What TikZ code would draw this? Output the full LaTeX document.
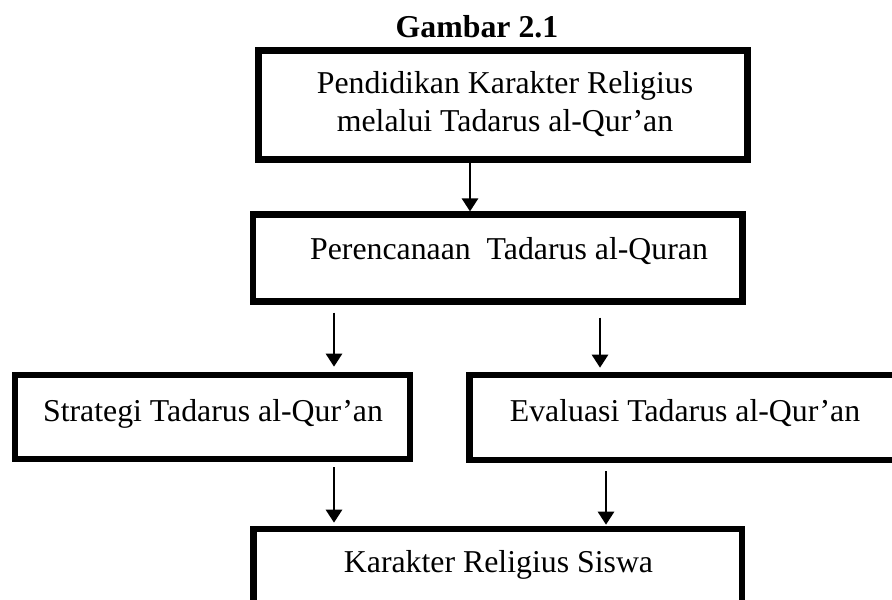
\documentclass[tikz,border=0pt]{standalone}
\usepackage{fontspec}
\setmainfont{Liberation Serif}
\usetikzlibrary{positioning, arrows.meta, calc}

\begin{document}
\begin{tikzpicture}[x=0.5pt, y=-0.5pt,
  box/.style={draw, line width=3.3pt, inner sep=0pt},
  txt/.style={font=\fontsize{15.9}{19}\selectfont, align=center, inner sep=0pt},
  arr/.style={-{Triangle[width=8pt, length=6.5pt]}, line width=1.3pt}]

\clip (0,0) rectangle (892,599);

% --- title ---
\node[txt, font=\fontsize{15.9}{19}\selectfont\bfseries, anchor=base] (title) at (477,38) {Gambar 2.1};

% --- boxes ---
\node[box, minimum width=244.5pt, minimum height=54.5pt] (pendidikan) at (503,105) {};
\node[box, minimum width=244.75pt, minimum height=43.25pt] (rencana) at (497.75,258) {};
\node[box, minimum width=197.5pt, minimum height=42pt] (strategi) at (212.5,417) {};
\node[box, minimum width=215.25pt, minimum height=42.5pt] (evaluasi) at (684.75,417.5) {};
\node[box, minimum width=244.25pt, minimum height=55.5pt] (hasil) at (497.75,584.5) {};

% --- texts ---
\node[txt] (pendidikan-t) at (505,104) {Pendidikan Karakter Religius\\melalui Tadarus al-Qur’an};
\node[txt, anchor=base] (rencana-t) at (509,259) {Perencanaan\ \ Tadarus al-Quran};
\node[txt, anchor=base] (strategi-t) at (213,421) {Strategi Tadarus al-Qur’an};
\node[txt, anchor=base] (evaluasi-t) at (685,421) {Evaluasi Tadarus al-Qur’an};
\node[txt, anchor=base] (hasil-t) at (498.5,572) {Karakter Religius Siswa};

% --- arrow columns ---
\coordinate (col1) at (470,0);
\coordinate (col2) at (334,0);
\coordinate (col3) at (600,0);
\coordinate (col4) at (606,0);

% --- arrows ---
\draw[arr] (pendidikan.south -| col1) -- (rencana.north -| col1);
\draw[arr, shorten <=4pt, shorten >=2.5pt] (rencana.south -| col2) -- (strategi.north -| col2);
\draw[arr, shorten <=6.5pt, shorten >=2pt] (rencana.south -| col3) -- (evaluasi.north -| col3);
\draw[arr, shorten <=2.5pt, shorten >=1.5pt] (strategi.south -| col2) -- (hasil.north -| col2);
\draw[arr, shorten <=4pt, shorten >=0.5pt] (evaluasi.south -| col4) -- (hasil.north -| col4);
\end{tikzpicture}
\end{document}
